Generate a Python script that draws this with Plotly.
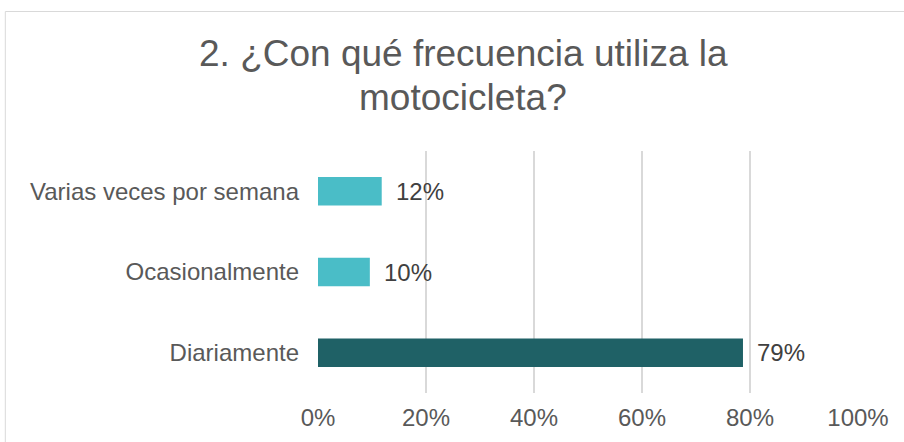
import plotly.graph_objects as go

categories = ["Diariamente", "Ocasionalmente", "Varias veces por semana"]
values = [0.787, 0.096, 0.118]
bar_colors = ["#1F6166", "#4ABDC7", "#4ABDC7"]
x_ticks = [0, 0.2, 0.4, 0.6, 0.8, 1.0]
x_tick_labels = ["0%", "20%", "40%", "60%", "80%", "100%"]
title_lines = ["2. ¿Con qué frecuencia utiliza la", "motocicleta?"]

FONT = "Liberation Sans, Arial, sans-serif"

fig = go.Figure()
fig.add_trace(go.Bar(
    x=values, y=categories, orientation="h",
    marker=dict(color=bar_colors, line=dict(width=0)),
    hoverinfo="skip",
))

annotations = []
for c, v in zip(categories, values):
    annotations.append(dict(
        x=v, y=c, xref="x", yref="y", text=f"{round(v*100)}%",
        showarrow=False, xanchor="left", yanchor="middle", xshift=12,
        font=dict(family=FONT, size=24, color="#404040"),
    ))

W, L, R = 904, 318, 46
plot_w = W - L - R
cx = (463 - L) / plot_w
PT, PB = 151, 49
plot_h = 442 - PT - PB
def py(p):
    return (442 - PB - p) / plot_h
def px(p):
    return (p - L) / plot_w

annotations.append(dict(x=cx, y=py(53), xref="paper", yref="paper", text=title_lines[0],
                        showarrow=False, xanchor="center", yanchor="middle",
                        font=dict(family=FONT, size=37, color="#595959")))
annotations.append(dict(x=cx, y=py(97), xref="paper", yref="paper", text=title_lines[1],
                        showarrow=False, xanchor="center", yanchor="middle",
                        font=dict(family=FONT, size=37, color="#595959")))

border = dict(color="#D9D9D9", width=1)
fig.update_layout(
    width=904, height=442,
    margin=dict(l=L, r=R, t=PT, b=PB, pad=0, autoexpand=False),
    paper_bgcolor="white", plot_bgcolor="white",
    showlegend=False,
    bargap=0.647,
    annotations=annotations,
    shapes=[
        dict(type="line", xref="paper", yref="paper", layer="below",
             x0=px(5.3), x1=px(904), y0=py(11.5), y1=py(11.5), line=border),
        dict(type="line", xref="paper", yref="paper", layer="below",
             x0=px(5.3), x1=px(5.3), y0=py(11.5), y1=py(442), line=border),
    ],
    xaxis=dict(
        range=[0, 1.0], tickvals=x_ticks, ticktext=x_tick_labels,
        showgrid=True, gridcolor="#D9D9D9", gridwidth=1.5,
        zeroline=False, showline=False, ticks="",
        ticklabelstandoff=8, automargin=False,
        tickfont=dict(family=FONT, size=24, color="#595959"),
        fixedrange=True,
    ),
    yaxis=dict(
        categoryorder="array", categoryarray=categories,
        showgrid=False, zeroline=False, showline=False, ticks="",
        ticklabelstandoff=18, automargin=False,
        tickfont=dict(family=FONT, size=24, color="#595959"),
        fixedrange=True,
    ),
)
fig.write_html("out.html",
               config={"displayModeBar": False, "staticPlot": True},
               post_script="document.body.style.margin='0';document.body.style.overflow='hidden';")
